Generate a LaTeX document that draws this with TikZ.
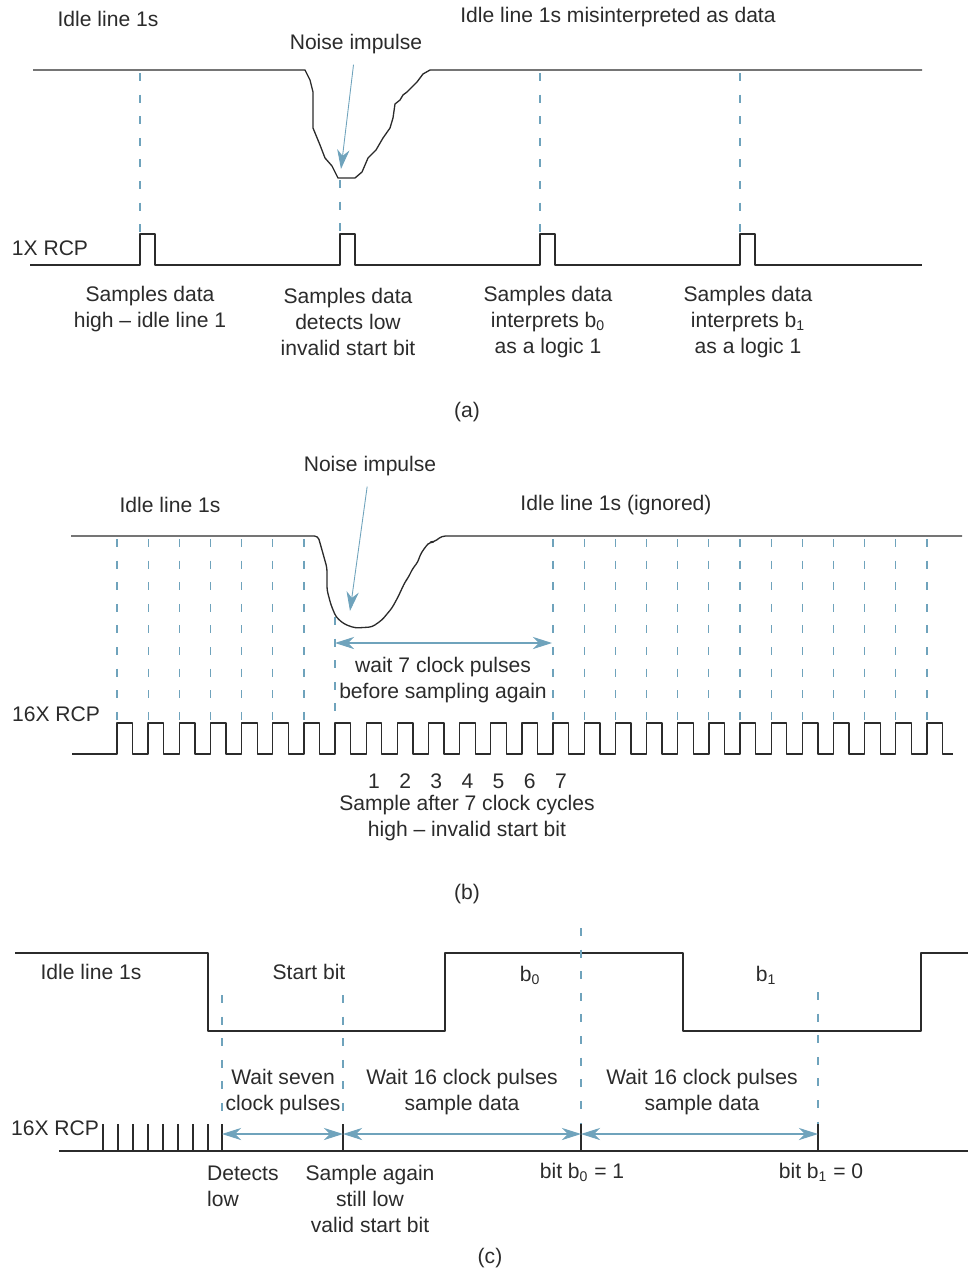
\documentclass[tikz,border=0pt]{standalone}
\usepackage{fontspec}
\setmainfont{Liberation Sans}
\usepackage{xcolor}
\usetikzlibrary{arrows.meta}
\definecolor{SigDark}{HTML}{2B2B2B}
\definecolor{ProbeBlue}{HTML}{6FA3BC}

\begin{document}
\begin{tikzpicture}[x=0.02cm, y=-0.02cm,
    every node/.style={font=\fontsize{12}{14.7}\selectfont, text=SigDark, inner sep=1pt},
    sig/.style={draw=SigDark, line width=0.75pt, line join=round},
    probe/.style={draw=ProbeBlue, line width=0.7pt, dash pattern=on 4.5pt off 7.8pt},
    pointer/.style={draw=ProbeBlue, line width=0.5pt, shorten <=5pt, -{Stealth[length=11pt, width=7pt, inset=3.5pt]}},
    dimarrow/.style={draw=ProbeBlue, line width=0.6pt, {Stealth[length=11pt, width=7pt, inset=3.5pt]}-{Stealth[length=11pt, width=7pt, inset=3.5pt]}}]
  \useasboundingbox (0,0) rectangle (969,1271);

  % (a) 1X clock
  \draw[sig] (33,70) -- (305,70) -- (310,80) -- (313,92) -- (313,128) -- (320,145) -- (325,158)
    -- (332,166) -- (338,178) -- (355,178) -- (362,172) -- (368,158) -- (376,150) -- (383,138)
    -- (390,128) -- (393,118) -- (395,104) -- (400,100) -- (403,95) -- (407,92) -- (410,89)
    -- (417,82) -- (423,74) -- (430,70) -- (922,70);
  \foreach \p in {140,540,740} {
    \draw[probe] (\p,73) -- (\p,234);
  }
  \draw[probe] (340,180) -- (340,234);
  \draw[sig] (30,265) foreach \p in {140,340,540,740} {
      -- (\p,265) -- (\p,234) -- (\p+15,234) -- (\p+15,265) } -- (922,265);

  \node (idleA) at (108,19) {Idle line 1s};
  \node (misA) at (618,17) {Idle line 1s misinterpreted as data};
  \node (noiseA) at (356,44) {Noise impulse};
  \coordinate (dipA) at (341,169);
  \draw[pointer] (noiseA) -- (dipA);
  \node (rcpA) at (50,248) {1X RCP};
  \node[align=center] (sA1) at (150,309) {Samples data\\high -- idle line 1};
  \node[align=center] (sA2) at (348,322) {Samples data\\detects low\\invalid start bit};
  \node[align=center] (sA3) at (548,322) {Samples data\\interprets b\textsubscript{0}\\as a logic 1};
  \node[align=center] (sA4) at (748,322) {Samples data\\interprets b\textsubscript{1}\\as a logic 1};
  \node (capA) at (467,412) {(a)};

  % (b) 16X clock
  \draw[sig, rounded corners=2pt] (71,536) -- (318,536) -- (322,550) -- (327,568) -- (327,590)
    -- (331,605) -- (336,617) -- (344,624) -- (355,628) -- (372,627) -- (382,620) -- (392,608)
    -- (398,597) -- (405,582) -- (408,578) -- (413,568) -- (418,562) -- (420,555) -- (426,546)
    -- (430,542) -- (434,542) -- (442,536) -- (962,536);
  \foreach \k in {0,...,6} {
    \draw[probe] ({117+31.15*\k},539) -- ({117+31.15*\k},721);
  }
  \foreach \k in {14,...,26} {
    \draw[probe] ({117+31.15*\k},539) -- ({117+31.15*\k},721);
  }
  \draw[probe] (335,617) -- (335,721);
  \draw[sig] (72,754) foreach \k in {0,...,26} {
      -- ({117+31.15*\k},754) -- ({117+31.15*\k},723) -- ({132.6+31.15*\k},723) -- ({132.6+31.15*\k},754) }
    -- (953,754);

  \node (noiseB) at (370,466) {Noise impulse};
  \coordinate (dipB) at (350,611);
  \draw[pointer] (noiseB) -- (dipB);
  \node (idleB) at (170,505) {Idle line 1s};
  \node (ignB) at (616,505) {Idle line 1s (ignored)};
  \coordinate (w0) at (335,643);
  \coordinate (w7) at (552,643);
  \draw[dimarrow] (w0) -- (w7);
  \node[align=center] (waitB) at (443,680) {wait 7 clock pulses\\before sampling again};
  \node (rcpB) at (56,714) {16X RCP};
  \foreach \k in {1,...,7} {
    \node (n\k) at ({374+31.15*(\k-1)},781) {\k};
  }
  \node[align=center] (sampB) at (467,818) {Sample after 7 clock cycles\\high -- invalid start bit};
  \node (capB) at (467,894) {(b)};

  % (c) start bit check
  \draw[sig] (15,953) -- (208,953) -- (208,1031) -- (445,1031) -- (445,953) -- (683,953)
    -- (683,1031) -- (921,1031) -- (921,953) -- (968,953);
  \draw[probe] (222,995) -- (222,1124);
  \draw[probe] (343,995) -- (343,1124);
  \draw[probe] (581,928) -- (581,1124);
  \draw[probe] (818,992) -- (818,1124);
  \draw[sig] (59,1151) -- (968,1151);
  \foreach \x in {103,118,133,148,163,178,193,208,222,343,581,818} {
    \draw[sig] (\x,1124) -- (\x,1151);
  }
  \coordinate (c1) at (222,1134);
  \coordinate (c2) at (343,1134);
  \coordinate (c3) at (581,1134);
  \coordinate (c4) at (818,1134);
  \draw[dimarrow] (c1) -- (c2);
  \draw[dimarrow] (c2) -- (c3);
  \draw[dimarrow] (c3) -- (c4);

  \node (idleC) at (91,972) {Idle line 1s};
  \node (startC) at (309,972) {Start bit};
  \node (b0C) at (530,975) {b\textsubscript{0}};
  \node (b1C) at (766,975) {b\textsubscript{1}};
  \node[align=center] (waitC1) at (283,1092) {Wait seven\\clock pulses};
  \node[align=center] (waitC2) at (462,1092) {Wait 16 clock pulses\\sample data};
  \node[align=center] (waitC3) at (702,1092) {Wait 16 clock pulses\\sample data};
  \node (rcpC) at (55,1128) {16X RCP};
  \node[align=left, anchor=west] (detC) at (205,1186) {Detects\\low};
  \node[align=center] (againC) at (370,1199) {Sample again\\still low\\valid start bit};
  \node (bit0C) at (582,1172) {bit b\textsubscript{0} = 1};
  \node (bit1C) at (821,1172) {bit b\textsubscript{1} = 0};
  \node (capC) at (490,1258) {(c)};
\end{tikzpicture}
\end{document}
